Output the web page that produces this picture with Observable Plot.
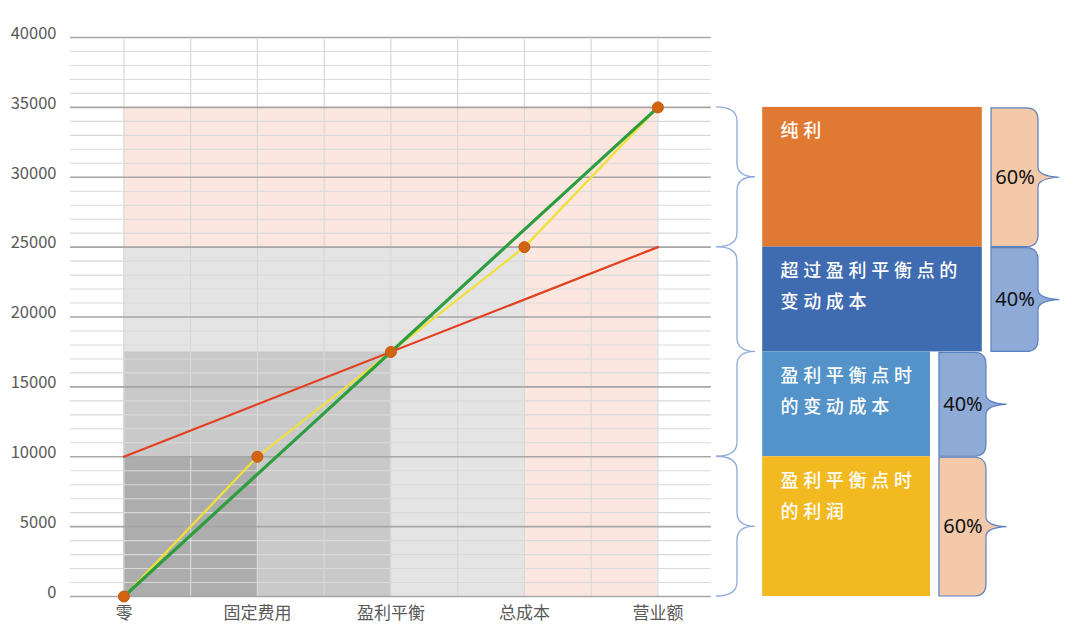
<!DOCTYPE html>
<html>
<head>
<meta charset="utf-8">
<script src="https://cdn.jsdelivr.net/npm/d3@7"></script>
<script src="https://cdn.jsdelivr.net/npm/@observablehq/plot@0.6"></script>
<style>
  body { margin: 0; background: #fff; }
  #chart { width: 1080px; height: 644px; }
</style>
</head>
<body>
<div id="chart"></div>
<script>
// ---- data ----
const categories = ["零", "固定费用", "盈利平衡", "总成本", "营业额"];
const stepValues = [0, 10000, 17500, 25000, 35000];   // yellow polyline with dots
const revenueEnds = [0, 35000];                       // green line (first → last category)
const costEnds = [10000, 25000];                      // red line (first → last category)
const shadeTops = [10000, 17500, 25000, 35000];       // shaded areas up to categories 1..4
const shadeColors = ["#adadad", "#c9c9c9", "#e4e4e4", "#fbe7df"];
const segLabels = ["纯利", "超过盈利平衡点的\n变动成本", "盈利平衡点时\n的变动成本", "盈利平衡点时\n的利润"];
const segTops = [35000, 25000, 17500, 10000];
const segBottoms = [25000, 17500, 10000, 0];
const segColors = ["#e07a32", "#3f6bb1", "#5393c9", "#f2b920"];
const segPct = ["60%", "40%", "40%", "60%"];
const pctColors = ["#f3c9aa", "#8eaad6", "#8eaad6", "#f3c9aa"];
const braceTops = [35000, 25000, 10000];
const braceBottoms = [25000, 10000, 0];
const yMajorTicks = d3.range(0, 40001, 5000);
const yMinorTicks = d3.range(0, 40001, 1000).filter(v => v % 5000 !== 0);
const xGridTicks = d3.range(0, 4.01, 0.5);

// ---- layout (x units) ----
const X0 = -0.4, X1 = 7.1655;
const GRID_X2 = 4.4;
const BOX_X1 = 4.785, BOX_WIDE_X2 = 6.43, BOX_NARROW_X2 = 6.042;
const LABEL_X = 4.918;
const LB = {x0: 4.439, xs: 4.596, xt: 4.731};                 // left braces
const RB_WIDE = {xl: 6.499, xs: 6.851, xt: 7.01};              // right braces (top two)
const RB_NARROW = {xl: 6.109, xs: 6.461, xt: 6.615};           // right braces (bottom two)

const shades = shadeTops.map((t, i) => ({x2: i + 1, y2: t, fill: shadeColors[i]})).reverse();
const steps = stepValues.map((v, i) => ({x: i, y: v}));
const revenue = [{x: 0, y: revenueEnds[0]}, {x: categories.length - 1, y: revenueEnds[1]}];
const cost = [{x: 0, y: costEnds[0]}, {x: categories.length - 1, y: costEnds[1]}];
const segs = segLabels.map((l, i) => ({
  label: l, top: segTops[i], bottom: segBottoms[i], color: segColors[i],
  pct: segPct[i], pctColor: pctColors[i],
  x2: i < 2 ? BOX_WIDE_X2 : BOX_NARROW_X2,
  rb: i < 2 ? RB_WIDE : RB_NARROW
}));

function braceMark(index, scales) {
  const g = d3.create("svg:g");
  const x = scales.x, y = scales.y;
  // left open braces
  braceTops.forEach((t, i) => {
    const yT = y(t), yB = y(braceBottoms[i]), yM = (yT + yB) / 2;
    const x0 = x(LB.x0), xs = x(LB.xs), xt = x(LB.xt), r = 14;
    g.append("path")
      .attr("d", `M${x0},${yT} Q${xs},${yT} ${xs},${yT + r} L${xs},${yM - r} Q${xs},${yM} ${xt},${yM} Q${xs},${yM} ${xs},${yM + r} L${xs},${yB - r} Q${xs},${yB} ${x0},${yB}`)
      .attr("fill", "none").attr("stroke", "#8eaadb").attr("stroke-width", 1.3);
  });
  // right filled braces
  segs.forEach(s => {
    const yT = y(s.top) + 1, yB = y(s.bottom), yM = (yT + yB) / 2;
    const xl = x(s.rb.xl), xs = x(s.rb.xs), xt = x(s.rb.xt), r = 12, r2 = 10;
    g.append("path")
      .attr("d", `M${xl},${yT} L${xs - r},${yT} Q${xs},${yT} ${xs},${yT + r} L${xs},${yM - r2} Q${xs},${yM - 1} ${xt},${yM} Q${xs},${yM + 1} ${xs},${yM + r2} L${xs},${yB - r} Q${xs},${yB} ${xs - r},${yB} L${xl},${yB} Z`)
      .attr("fill", s.pctColor).attr("stroke", "#5a7fbf").attr("stroke-width", 1.2);
  });
  return g.node();
}

const plot = Plot.plot({
  width: 1080,
  height: 644,
  marginLeft: 70,
  marginRight: 0,
  marginTop: 37,
  marginBottom: 48,
  x: {domain: [X0, X1]},
  y: {domain: [0, 40000]},
  style: {fontFamily: "'Noto Sans CJK SC', 'Noto Sans', sans-serif", color: "#595959", background: "#fff", overflow: "visible"},
  marks: [
    Plot.rect(shades, {x1: 0, x2: "x2", y1: 0, y2: "y2", fill: "fill"}),
    Plot.ruleY(yMinorTicks, {x1: X0, x2: GRID_X2, stroke: "#d9d9d9", strokeWidth: 1.1}),
    Plot.ruleX(xGridTicks, {y1: 0, y2: 39850, stroke: "#d9d9d9", strokeWidth: 1.2}),
    Plot.ruleY(yMajorTicks, {x1: X0, x2: GRID_X2, stroke: "#a6a6a6", strokeWidth: 1.6}),
    Plot.line(steps, {x: "x", y: "y", stroke: "#f0e038", strokeWidth: 2.2}),
    Plot.line(revenue, {x: "x", y: "y", stroke: "#2e9d3f", strokeWidth: 3.2}),
    Plot.line(cost, {x: "x", y: "y", stroke: "#e2401f", strokeWidth: 2.2}),
    Plot.dot(steps, {x: "x", y: "y", r: 5.5, fill: "#d2640f", stroke: "#c55a11", strokeWidth: 1}),
    Plot.axisY({ticks: yMajorTicks, tickSize: 0, tickPadding: 14, fontSize: 16.5, dy: -4, label: null, tickFormat: d => String(d)}),
    Plot.axisX({ticks: d3.range(categories.length), tickFormat: i => categories[i], tickSize: 0, tickPadding: 10, fontSize: 17, label: null}),
    // right-side panel
    Plot.rect(segs, {x1: BOX_X1, x2: "x2", y1: "bottom", y2: "top", fill: "color"}),
    braceMark,
    Plot.text(segs, {x: LABEL_X, y: "top", text: "label", textAnchor: "start", lineAnchor: "top", dy: 8, fontSize: 18, fontWeight: 500, lineHeight: 1.72, fill: "#fff", ariaDescription: "seglabel"}),
    Plot.text(segs, {x: d => (d.rb.xl + d.rb.xs) / 2, y: d => (d.top + d.bottom) / 2, text: "pct", fontSize: 20, fill: "#111", fontFamily: "'Noto Sans', sans-serif"})
  ]
});

d3.select(plot).selectAll('g[aria-description="seglabel"]').style("letter-spacing", "4.7px");
document.getElementById("chart").appendChild(plot);
</script>
</body>
</html>
